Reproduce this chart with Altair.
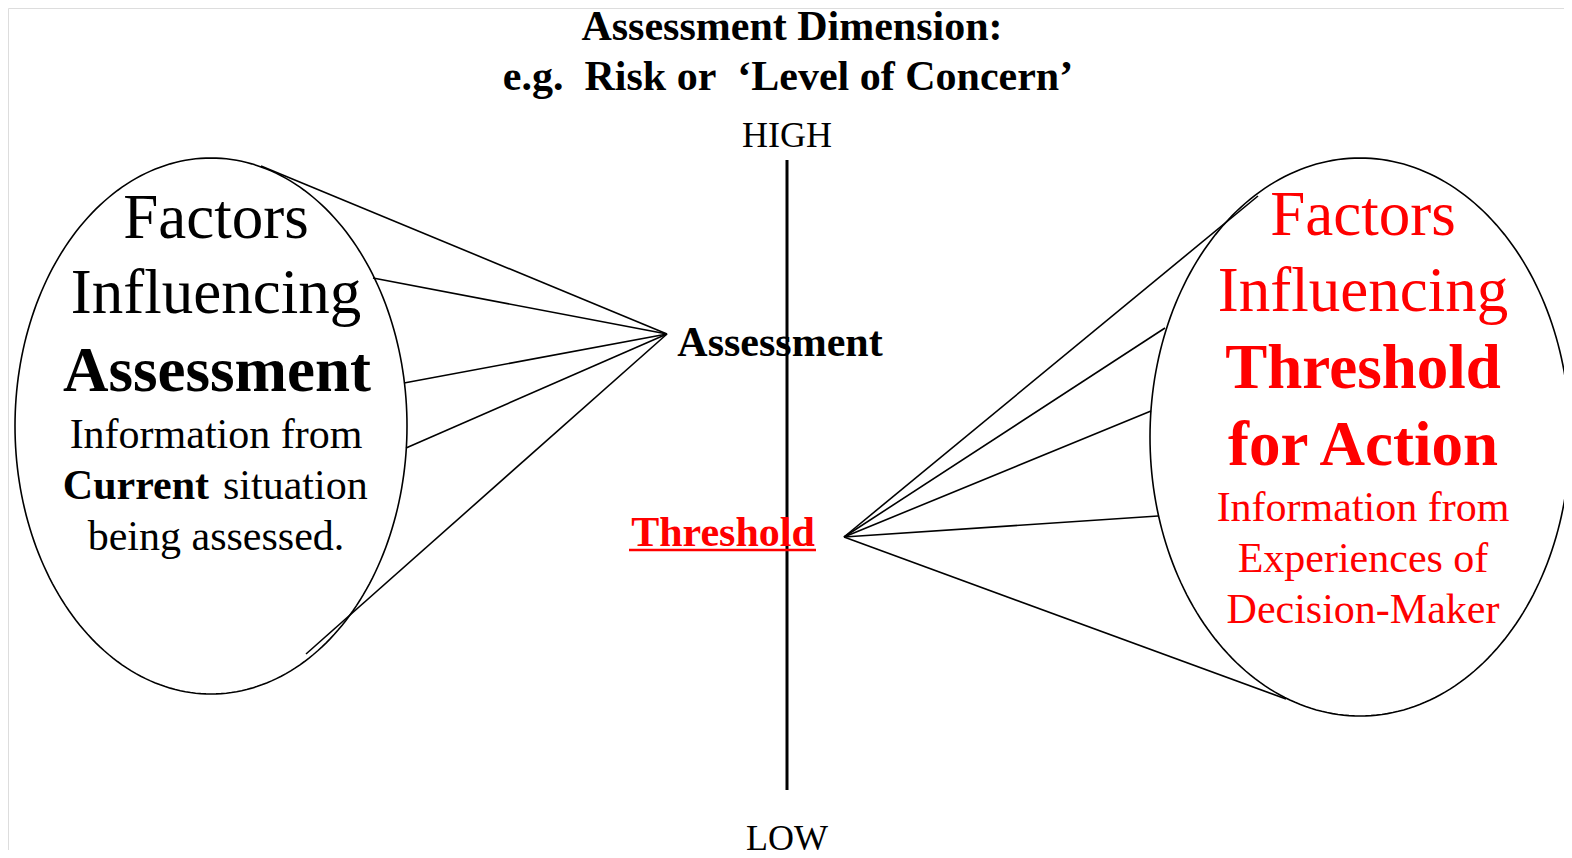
import altair as alt
import numpy as np
import pandas as pd

# ---- data (page-pixel coordinates of the diagram) ----
ellipse_names = ["left", "right"]
ellipse_cx = [211, 1360]
ellipse_cy = [426, 437]
ellipse_rx = [196, 210]
ellipse_ry = [268, 279]

left_hub = (667, 334)
left_ends_x = [261, 373, 404, 406, 306]
left_ends_y = [166, 278, 383, 448, 654]
right_hub = (844, 537)
right_ends_x = [1258, 1165, 1151, 1158, 1286]
right_ends_y = [196, 328, 411, 516, 699]

axis_x = 787
axis_top = 160
axis_bottom = 790

# text groups: (text, x, baseline y)
title_texts = ["Assessment Dimension:", "e.g.\u00a0\u00a0Risk or\u00a0\u00a0\u2018Level of Concern\u2019"]
title_x = [792, 788]
title_y = [40, 90]

scale_texts = ["HIGH", "LOW"]
scale_x = [787, 787]
scale_y = [147, 850]

left_big = ["Factors", "Influencing"]
left_big_x = [216, 216]
left_big_y = [238, 313]
left_big_bold = ["Assessment"]
left_big_bold_x = [217]
left_big_bold_y = [391]
left_small = ["Information from", "being assessed."]
left_small_x = [216, 216]
left_small_y = [448, 550]

right_big = ["Factors", "Influencing"]
right_big_x = [1363, 1363]
right_big_y = [235, 311]
right_big_bold = ["Threshold", "for Action"]
right_big_bold_x = [1363, 1363]
right_big_bold_y = [388, 465]
right_small = ["Information from", "Experiences of", "Decision-Maker"]
right_small_x = [1363, 1363, 1363]
right_small_y = [521, 572, 623]

RED = "#FF0000"
FONT = "Liberation Serif"

W, H = 1556, 842
xs = alt.Scale(domain=[8, 8 + W], nice=False, zero=False)
ys = alt.Scale(domain=[8, 8 + H], nice=False, zero=False, reverse=True)


def X(f="x"):
    return alt.X(f"{f}:Q", scale=xs, axis=None)


def Y(f="y"):
    return alt.Y(f"{f}:Q", scale=ys, axis=None)


# ellipses
rows = []
t = np.linspace(0, 2 * np.pi, 241)
for n, cx, cy, rx, ry in zip(ellipse_names, ellipse_cx, ellipse_cy, ellipse_rx, ellipse_ry):
    for i, a in enumerate(t):
        rows.append({"e": n, "i": i, "x": cx + rx * np.cos(a), "y": cy + ry * np.sin(a)})
ell_df = pd.DataFrame(rows)
ellipses = alt.Chart(ell_df).mark_line(color="black", strokeWidth=1.6).encode(
    x=X(), y=Y(), detail="e:N", order="i:Q"
)

# connector lines
conn = pd.DataFrame(
    {
        "x": [left_hub[0]] * 5 + [right_hub[0]] * 5,
        "y": [left_hub[1]] * 5 + [right_hub[1]] * 5,
        "x2": left_ends_x + right_ends_x,
        "y2": left_ends_y + right_ends_y,
    }
)
connectors = alt.Chart(conn).mark_rule(color="black", strokeWidth=1.6).encode(
    x=X(), y=Y(), x2="x2:Q", y2="y2:Q"
)

# vertical axis
vaxis = alt.Chart(pd.DataFrame({"x": [axis_x], "y": [axis_top], "y2": [axis_bottom]})).mark_rule(
    color="black", strokeWidth=3
).encode(x=X(), y=Y(), y2="y2:Q")


def text_layer(texts, xs_, ys_, size, bold=False, color="black", align="center"):
    df = pd.DataFrame({"t": texts, "x": xs_, "y": ys_})
    return alt.Chart(df).mark_text(
        font=FONT,
        fontSize=size,
        fontWeight="bold" if bold else "normal",
        color=color,
        align=align,
        baseline="alphabetic",
    ).encode(x=X(), y=Y(), text="t:N")


layers = [
    ellipses,
    connectors,
    vaxis,
    text_layer(title_texts, title_x, title_y, 42, bold=True),
    text_layer(scale_texts, scale_x, scale_y, 36),
    text_layer(["Assessment"], [780], [356], 42, bold=True),
    text_layer(["Threshold"], [723], [546], 42, bold=True, color=RED),
    text_layer(left_big, left_big_x, left_big_y, 63),
    text_layer(left_big_bold, left_big_bold_x, left_big_bold_y, 63, bold=True),
    text_layer(left_small, left_small_x, left_small_y, 42),
    text_layer(["Current"], [209], [499], 42, bold=True, align="right"),
    text_layer(["situation"], [223], [499], 42, align="left"),
    text_layer(right_big, right_big_x, right_big_y, 63, color=RED),
    text_layer(right_big_bold, right_big_bold_x, right_big_bold_y, 63, bold=True, color=RED),
    text_layer(right_small, right_small_x, right_small_y, 42, color=RED),
]

# underline for the red "Threshold" label
underline = alt.Chart(pd.DataFrame({"x": [629], "x2": [816], "y": [550]})).mark_rule(
    color=RED, strokeWidth=2.5
).encode(x=X(), x2="x2:Q", y=Y())
layers.append(underline)

chart = (
    alt.layer(*layers)
    .properties(width=W, height=H, padding=0, autosize=alt.AutoSizeParams(type="none"))
    .configure_view(strokeWidth=0, stroke="transparent", fill="transparent")
    .configure(background="transparent")
)

chart.save("out.html", embed_options={"renderer": "svg", "actions": False})
